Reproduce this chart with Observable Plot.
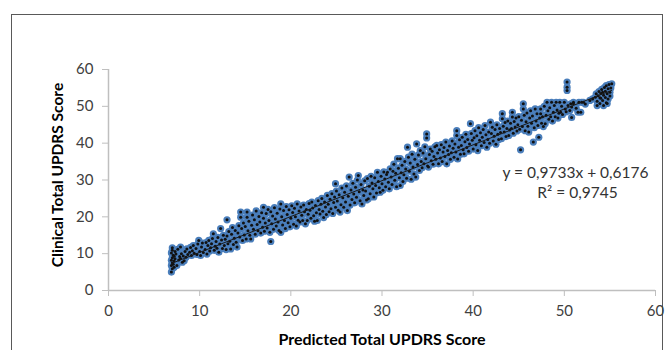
<!DOCTYPE html>
<html>
<head>
<meta charset="utf-8">
<script src="https://cdn.jsdelivr.net/npm/d3@7"></script>
<script src="https://cdn.jsdelivr.net/npm/@observablehq/plot@0.6"></script>
<style>
  html, body { margin: 0; padding: 0; background: #fff; }
  #wrap { position: relative; width: 671px; height: 350px; overflow: hidden; }
  #frame { position: absolute; left: 11px; top: 14px; width: 652px; height: 400px;
           border: 1.5px solid #595959; border-bottom: none; box-sizing: border-box; }
  #chart { position: absolute; left: 0; top: 0; }
</style>
</head>
<body>
<div id="wrap"><div id="frame"></div><div id="chart"></div></div>
<script>
// [predicted, clinical] pairs
const scatterPoints = [
[6.9,5.0],[7.0,5.9],[6.9,6.8],[7.0,7.5],[6.9,8.2],[7.0,8.9],[7.1,9.6],[6.9,10.2],[7.0,10.9],[7.0,11.6],
[7.2,6.3],[7.2,8.0],[7.2,9.3],[7.3,10.6],[7.1,7.1],[7.3,8.6],[7.4,9.9],[7.5,6.8],[7.6,11.2],[7.7,8.3],
[7.8,9.2],[7.9,11.8],[7.9,8.7],[8.1,7.7],[8.0,10.0],[8.2,9.4],[8.3,8.1],[8.4,10.6],[8.5,9.0],[8.6,11.3],
[8.7,9.8],[8.9,10.4],[9.0,11.7],[9.1,9.5],[9.2,10.8],[9.3,12.2],[9.4,10.1],[9.6,11.4],[9.7,9.8],[9.8,12.6],
[9.9,13.6],[10.0,10.6],[10.1,9.5],[10.2,11.8],[10.3,12.9],[10.4,10.3],[10.6,11.1],[10.7,13.0],[10.8,9.9],[10.9,12.2],
[11.0,13.6],[11.1,10.7],[11.2,11.6],[11.3,12.7],[11.4,14.1],[11.5,15.4],[11.6,10.9],[11.7,12.0],[11.8,13.3],[11.9,11.5],
[12.0,14.4],[12.1,10.4],[12.2,12.6],[12.3,16.8],[12.4,13.7],[12.5,11.4],[12.6,15.0],[12.7,12.2],[12.8,13.9],[12.9,11.1],
[13.0,19.2],[13.0,14.8],[13.1,12.7],[13.2,16.0],[13.3,13.4],[13.4,11.3],[13.5,15.3],[13.6,17.1],[13.7,12.5],[13.8,14.2],
[13.9,16.3],[14.0,13.1],[14.1,11.8],[14.2,15.6],[14.3,17.6],[14.4,14.5],[14.5,21.3],[14.5,19.9],[14.6,16.8],[14.7,13.6],
[14.8,18.3],[14.9,15.1],[15.0,17.4],[15.1,14.0],[15.2,21.3],[15.2,19.9],[15.3,16.2],[15.4,18.8],[15.5,15.0],[15.6,14.0],
[15.7,17.7],[15.8,20.5],[15.9,16.6],[16.0,19.2],[16.1,15.3],[16.2,21.6],[16.3,17.9],[16.4,16.2],[16.5,20.1],[16.6,18.6],
[16.7,15.6],[16.8,21.1],[16.9,17.2],[17.0,22.6],[17.0,19.6],[17.1,16.1],[17.2,18.3],[17.3,20.9],[17.4,17.0],[17.5,22.0],
[17.6,19.0],[17.7,15.8],[17.8,13.3],[17.8,21.4],[17.9,18.1],[18.0,20.2],[18.1,16.6],[18.2,22.5],[18.3,19.4],[18.4,17.5],
[18.5,21.0],[18.6,18.6],[18.7,16.3],[18.8,22.1],[18.9,23.5],[18.9,15.8],[19.0,20.0],[19.1,17.8],[19.2,21.7],[19.3,19.0],
[19.4,16.8],[19.5,22.8],[19.6,20.6],[19.7,18.4],[19.8,21.9],[19.9,17.3],[20.0,19.6],[20.1,23.0],[20.2,21.2],[20.3,18.0],
[20.4,22.3],[20.5,20.0],[20.6,17.5],[20.7,23.5],[20.8,19.1],[20.9,21.6],[21.0,18.6],[21.1,22.7],[21.2,20.4],[21.3,19.0],
[21.4,23.2],[21.5,21.4],[21.6,18.1],[21.7,22.0],[21.8,19.0],[21.9,20.7],[22.0,23.6],[22.1,21.8],[22.2,19.6],[22.3,24.0],
[22.4,22.4],[22.5,20.3],[22.6,18.8],[22.7,23.1],[22.8,21.1],[22.9,19.0],[23.0,24.4],[23.1,22.0],[23.2,20.8],[23.3,23.4],
[23.4,25.0],[23.5,21.5],[23.6,19.8],[23.7,24.0],[23.8,22.7],[23.9,20.6],[24.0,25.8],[24.1,23.4],[24.2,21.4],[24.3,24.8],
[24.4,22.2],[24.5,26.3],[24.6,20.9],[24.7,23.9],[24.8,25.4],[24.9,29.0],[24.9,22.6],[25.0,27.0],[25.1,24.3],[25.2,21.8],
[25.3,26.0],[25.4,21.3],[25.5,23.3],[25.6,27.8],[25.7,25.2],[25.8,22.6],[25.9,26.7],[26.0,24.0],[26.1,28.4],[26.2,21.7],
[26.3,25.6],[26.4,30.8],[26.5,23.2],[26.6,27.3],[26.7,24.7],[26.8,29.1],[26.9,26.2],[27.0,23.8],[27.1,28.0],[27.2,25.3],
[27.3,30.0],[27.4,31.2],[27.5,26.8],[27.6,24.4],[27.7,28.8],[27.8,23.5],[27.9,27.3],[28.0,25.8],[28.1,29.8],[28.2,27.0],
[28.3,24.6],[28.4,30.4],[28.5,24.9],[28.6,28.3],[28.7,26.3],[28.8,31.0],[28.9,29.2],[29.0,27.6],[29.1,25.4],[29.2,30.6],
[29.3,28.5],[29.4,26.5],[29.5,32.1],[29.6,29.6],[29.7,27.9],[29.8,26.7],[29.9,31.0],[30.0,29.0],[30.1,27.2],[30.2,32.2],
[30.3,30.3],[30.4,28.2],[30.5,31.5],[30.6,32.1],[30.7,29.4],[30.8,27.6],[30.9,33.0],[31.0,30.8],[31.1,28.8],[31.2,32.4],
[31.3,34.3],[31.4,29.9],[31.5,31.8],[31.6,28.2],[31.7,35.8],[31.8,33.2],[31.9,30.6],[32.0,35.8],[32.0,28.5],[32.1,32.0],
[32.2,34.0],[32.3,29.6],[32.4,31.4],[32.5,35.0],[32.6,33.0],[32.7,30.5],[32.8,38.9],[32.9,36.2],[33.0,32.4],[33.1,34.6],
[33.2,30.2],[33.3,37.0],[33.4,33.5],[33.5,31.6],[33.6,35.6],[33.7,30.8],[33.8,39.8],[33.9,34.2],[34.0,36.8],[34.1,32.6],
[34.2,38.0],[34.3,35.0],[34.4,33.3],[34.5,37.3],[34.6,34.4],[34.7,39.0],[34.8,35.8],[34.9,42.5],[34.9,41.4],[35.0,33.8],
[35.1,33.5],[35.2,36.9],[35.3,38.4],[35.4,35.2],[35.5,37.8],[35.6,34.3],[35.7,36.4],[35.8,39.0],[35.9,35.6],[36.0,39.4],
[36.1,37.3],[36.2,34.4],[36.3,38.2],[36.4,36.0],[36.5,39.6],[36.6,35.0],[36.7,37.6],[36.8,38.8],[36.9,36.4],[37.0,40.3],
[37.1,34.4],[37.2,38.0],[37.3,36.9],[37.4,39.2],[37.5,35.6],[37.6,37.4],[37.7,40.6],[37.8,38.6],[37.9,36.2],[38.0,39.8],
[38.1,37.6],[38.2,43.4],[38.2,42.1],[38.3,35.7],[38.4,38.9],[38.5,40.9],[38.6,37.0],[38.7,39.4],[38.8,41.6],[38.9,38.2],
[39.0,37.1],[39.1,40.4],[39.2,42.4],[39.3,38.8],[39.4,41.0],[39.5,37.8],[39.6,39.8],[39.7,45.3],[39.8,42.6],[39.9,40.8],
[40.0,38.4],[40.1,41.5],[40.2,43.4],[40.3,39.6],[40.4,42.0],[40.5,38.0],[40.6,44.2],[40.7,40.8],[40.8,42.8],[40.9,39.3],
[41.0,41.6],[41.1,43.7],[41.2,40.2],[41.3,44.8],[41.4,42.3],[41.5,38.9],[41.6,41.0],[41.7,43.0],[41.8,40.0],[41.9,45.7],
[42.0,42.6],[42.1,44.3],[42.2,40.6],[42.3,41.9],[42.4,43.7],[42.5,39.7],[42.6,45.0],[42.7,42.4],[42.8,41.0],[42.9,44.0],
[43.0,42.9],[43.1,41.2],[43.2,48.0],[43.2,46.6],[43.3,44.6],[43.4,43.0],[43.5,45.6],[43.6,41.8],[43.7,44.0],[43.8,46.0],
[43.9,42.1],[44.0,43.6],[44.1,45.4],[44.2,44.0],[44.3,48.4],[44.3,47.1],[44.4,42.7],[44.5,45.9],[44.6,44.4],[44.7,46.8],
[44.8,43.3],[44.9,45.0],[45.0,47.2],[45.1,43.8],[45.2,38.2],[45.3,46.2],[45.4,44.5],[45.5,50.7],[45.5,49.3],[45.6,47.6],
[45.7,43.4],[45.8,45.8],[45.9,48.2],[46.0,44.6],[46.1,43.0],[46.2,46.8],[46.3,48.8],[46.4,45.4],[46.5,47.4],[46.6,40.3],
[46.7,44.2],[46.8,49.3],[46.9,46.0],[47.0,48.0],[47.2,41.6],[47.1,44.8],[47.3,46.8],[47.4,49.3],[47.4,48.0],[47.5,45.4],
[47.6,47.2],[47.7,44.5],[47.8,50.0],[47.9,45.3],[48.0,47.6],[48.1,51.1],[48.2,48.8],[48.3,46.5],[48.4,49.6],[48.5,47.2],
[48.6,51.1],[48.7,46.0],[48.8,48.4],[48.9,50.2],[49.0,47.2],[49.1,51.1],[49.2,49.0],[49.3,46.8],[49.4,48.1],[49.5,51.1],
[49.6,48.4],[49.7,50.0],[49.8,47.8],[50.0,51.1],[50.1,49.3],[50.2,48.5],[50.3,56.6],[50.3,55.2],[50.3,54.3],[50.4,50.2],
[50.6,48.9],[50.7,50.7],[50.8,49.8],[50.8,47.0],[51.0,51.1],[51.0,50.7],[51.3,49.5],[51.5,48.4],[51.6,51.1],[51.8,48.4],
[51.9,51.1],[52.1,51.1],[52.3,50.6],[52.8,51.6],[53.1,52.0],[53.4,52.5],[53.5,53.4],[53.6,50.2],[53.6,51.4],[53.7,52.9],
[53.8,54.0],[53.9,50.8],[54.0,52.2],[54.0,53.5],[54.1,54.6],[54.2,51.6],[54.3,50.2],[54.3,53.0],[54.4,55.1],[54.5,52.4],
[54.5,54.1],[54.6,51.0],[54.6,55.6],[54.7,53.4],[54.8,54.8],[54.8,52.0],[54.9,55.9],[55.0,53.8],[55.1,55.0],[55.2,56.1],
[55.0,52.8],[54.2,53.8],[53.9,52.3],[54.7,50.8]
];

const xTicks = [0, 10, 20, 30, 40, 50, 60];
const yTicks = [0, 10, 20, 30, 40, 50, 60];
const xTitle = "Predicted Total UPDRS Score";
const yTitle = "Clinical Total UPDRS Score";
const trendSlope = 0.9733;
const trendIntercept = 0.6176;
const trendRange = [6.9, 55.2];
const equationLines = ["y = 0,9733x + 0,6176", "R² = 0,9745"];

const trendLine = trendRange.map(x => ({x, y: trendSlope * x + trendIntercept}));

const chart = Plot.plot({
  width: 671,
  height: 350,
  marginLeft: 108,
  marginRight: 16,
  marginTop: 69,
  marginBottom: 60,
  x: {domain: [0, 60]},
  y: {domain: [0, 60]},
  style: {fontFamily: "Lato, 'Open Sans', sans-serif", fontSize: "15px", background: "transparent", overflow: "visible"},
  marks: [
    Plot.ruleY([0], {stroke: "#bfbfbf", strokeWidth: 1.5}),
    Plot.ruleX([0], {stroke: "#bfbfbf", strokeWidth: 1.5}),
    Plot.axisX({ticks: xTicks, tickSize: 6, tickPadding: 9, stroke: "#bfbfbf", fill: "#404040", tickFormat: d => String(d), label: null}),
    Plot.axisY({ticks: yTicks, tickSize: 6, tickPadding: 9, stroke: "#bfbfbf", fill: "#404040", tickFormat: d => String(d), label: null}),
    Plot.dot(scatterPoints, {x: d => d[0], y: d => d[1], r: 3.6, fill: "#4a7ebb", stroke: "none"}),
    Plot.dot(scatterPoints, {x: d => d[0], y: d => d[1], r: 1.5, fill: "#111", stroke: "none"}),
    Plot.line(trendLine, {x: "x", y: "y", stroke: "#1a1a1a", strokeWidth: 1}),
    Plot.text([xTitle], {frameAnchor: "bottom", dy: 54, lineAnchor: "bottom", textAnchor: "middle", fontWeight: "bold", fontSize: 16, fill: "#000"}),
    Plot.text([yTitle], {frameAnchor: "left", dx: -50, dy: -5, rotate: -90, textAnchor: "middle", lineAnchor: "middle", fontWeight: "bold", fontSize: 15.5, fill: "#000"}),
    Plot.text([equationLines[0]], {frameAnchor: "top-right", dx: -80, dy: 108, textAnchor: "middle", lineAnchor: "bottom", fontSize: 15.5, fill: "#333"}),
    Plot.text([equationLines[1]], {frameAnchor: "top-right", dx: -78, dy: 128, textAnchor: "middle", lineAnchor: "bottom", fontSize: 15.5, fill: "#333"})
  ]
});
document.getElementById("chart").appendChild(chart);
</script>
</body>
</html>
